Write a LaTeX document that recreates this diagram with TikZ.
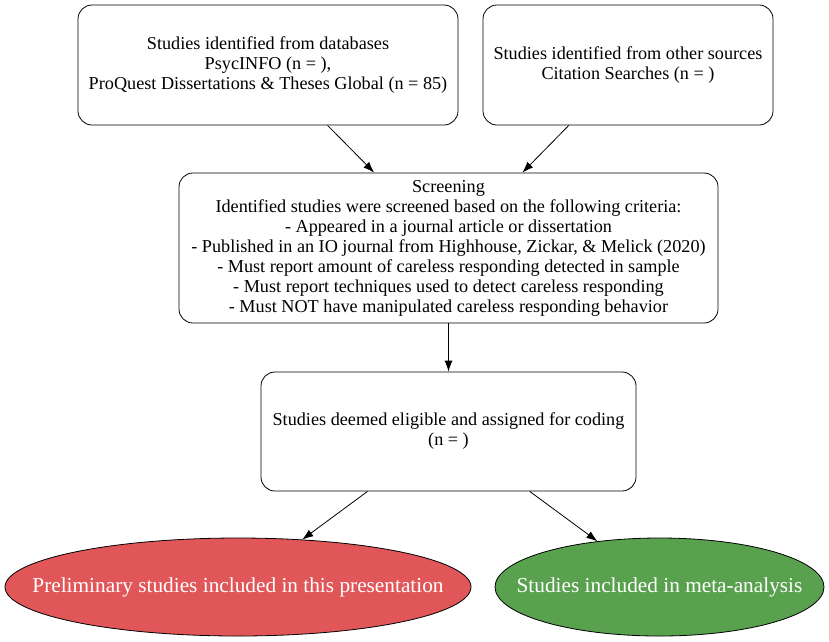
\documentclass[tikz,border=0pt]{standalone}
\usepackage{fontspec}
\setmainfont{Liberation Serif}
\usetikzlibrary{arrows.meta,shapes.geometric}
\definecolor{prelimred}{HTML}{E15759}
\definecolor{metagreen}{HTML}{59A14F}

\begin{document}
\begin{tikzpicture}[x=1pt,y=-1pt,line width=0.8pt]
\tikzset{
  box/.style={draw,rounded corners=14pt,align=center,inner sep=0pt,
    font=\fontsize{18.2}{20}\selectfont},
  oval/.style={draw,ellipse,inner xsep=-60pt,inner ysep=-10pt,text=white,
    font=\fontsize{21.3}{24}\selectfont},
  flow/.style={-{Latex[length=11pt,width=8pt]}}
}
\useasboundingbox (0,0) rectangle (829,641);
% sources
\node[box,minimum width=380pt,minimum height=120pt] (db) at (268,65)
  {Studies identified from databases\\PsycINFO (n = ),\\ProQuest Dissertations \& Theses Global (n = 85)};
\node[box,minimum width=290pt,minimum height=120pt] (other) at (628,65)
  {Studies identified from other sources\\Citation Searches (n = )};
% screening
\node[box,minimum width=539pt,minimum height=150pt] (screen) at (448.5,248)
  {Screening\\Identified studies were screened based on the following criteria:\\
   - Appeared in a journal article or dissertation\\
   - Published in an IO journal from Highhouse, Zickar, \& Melick (2020)\\
   - Must report amount of careless responding detected in sample\\
   - Must report techniques used to detect careless responding\\
   - Must NOT have manipulated careless responding behavior};
\node[box,minimum width=375pt,minimum height=119pt] (elig) at (448.5,431.5)
  {Studies deemed eligible and assigned for coding\\(n = )};
% outcomes
\node[oval,fill=prelimred,minimum width=466pt,minimum height=98pt] (prelim) at (238,587)
  {Preliminary studies included in this presentation};
\node[oval,fill=metagreen,minimum width=329pt,minimum height=98pt] (meta) at (659.5,587)
  {Studies included in meta-analysis};
\draw[flow] (db) -- (screen);
\draw[flow] (other) -- (screen);
\draw[flow] (screen) -- (elig);
\draw[flow] (elig) -- (prelim);
\draw[flow] (elig) -- (meta);
\end{tikzpicture}
\end{document}
